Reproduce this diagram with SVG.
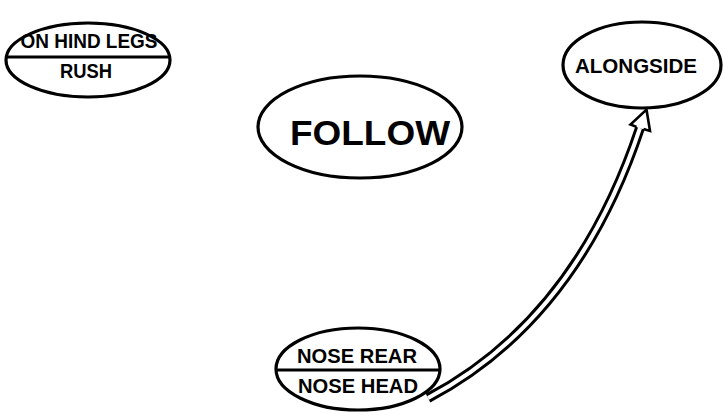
<svg xmlns="http://www.w3.org/2000/svg" width="725" height="415" viewBox="0 0 725 415">
<style>
.n{fill:#fff;stroke:#000;stroke-width:3.2}
.d{stroke:#000;stroke-width:3}
.t{font-family:"Liberation Sans",Arial,sans-serif;font-weight:bold;fill:#000;text-anchor:middle}
</style>
<rect width="725" height="415" fill="#fff"/>
<g id="connectors">
<path d="M428,398 Q576,320 640,128" fill="none" stroke="#000" stroke-width="10"/>
<path d="M428,398 Q576,320 640,128" fill="none" stroke="#fff" stroke-width="4"/>
<polygon points="636.5,126.9 630.5,124.5 646.5,109.5 650,131 643.5,129.1" fill="#fff" stroke="none"/>
<polyline points="636.5,126.9 630.5,124.5 646.5,109.5 650,131 643.5,129.1" fill="none" stroke="#000" stroke-width="2.6" stroke-linejoin="miter"/>
</g>
<g id="hindlegs">
<ellipse class="n" cx="88" cy="60" rx="82" ry="37"/>
<line class="d" x1="7" y1="57" x2="169" y2="57"/>
<text class="t" x="89" y="48" font-size="20.5" textLength="137" lengthAdjust="spacingAndGlyphs">ON HIND LEGS</text>
<text class="t" x="86" y="78" font-size="21" textLength="52" lengthAdjust="spacingAndGlyphs">RUSH</text>
</g>
<g id="follow">
<ellipse class="n" cx="360" cy="127" rx="102" ry="51"/>
<text class="t" x="370" y="145" font-size="35" textLength="160" lengthAdjust="spacingAndGlyphs">FOLLOW</text>
</g>
<g id="alongside">
<ellipse class="n" cx="642" cy="65" rx="79" ry="43"/>
<text class="t" x="636" y="73" font-size="20" textLength="122" lengthAdjust="spacingAndGlyphs">ALONGSIDE</text>
</g>
<g id="nose">
<ellipse class="n" cx="358" cy="369" rx="82" ry="41"/>
<line class="d" x1="277" y1="370" x2="439" y2="370"/>
<text class="t" x="357" y="363" font-size="21" textLength="120" lengthAdjust="spacingAndGlyphs">NOSE REAR</text>
<text class="t" x="358" y="393" font-size="21" textLength="120" lengthAdjust="spacingAndGlyphs">NOSE HEAD</text>
</g>
</svg>
